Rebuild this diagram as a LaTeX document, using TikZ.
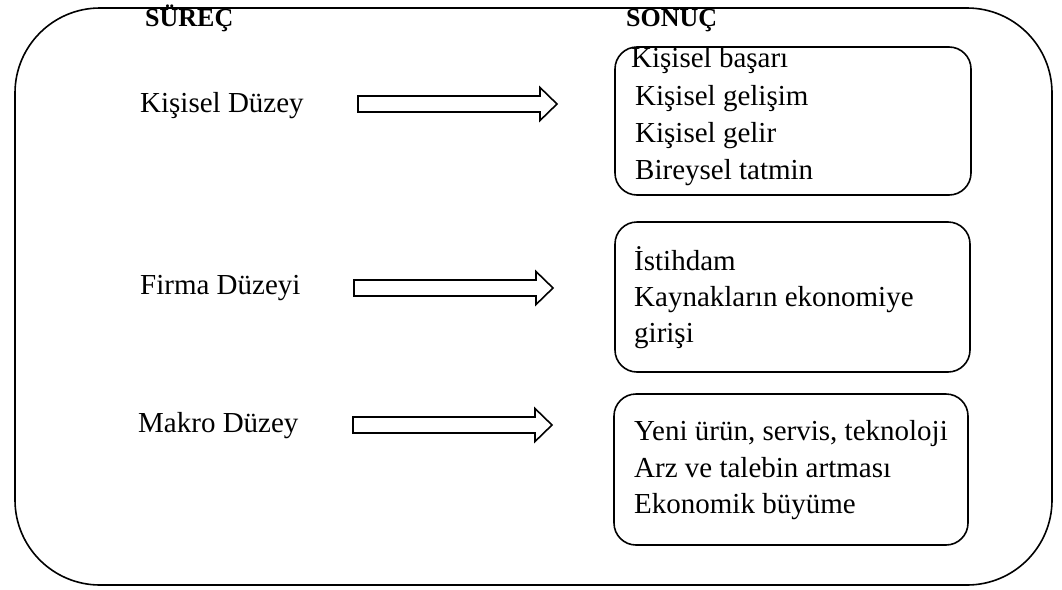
\documentclass[tikz,border=0pt]{standalone}
\usepackage{fontspec}
\setmainfont{Liberation Serif}
\usetikzlibrary{calc}
\tikzset{
  frame/.style={draw, line width=1.6pt, rounded corners=85pt},
  resbox/.style={draw, line width=1.6pt, rounded corners=22pt},
  blk/.style={draw, line width=1.6pt, line join=miter},
  head/.style={anchor=base west, inner sep=0pt, font=\fontsize{26}{30}\selectfont\bfseries},
  lbl/.style={anchor=base west, inner sep=0pt, font=\fontsize{29}{35}\selectfont},
}
\newcommand{\blockarr}[2]{%
  \draw[blk] ($(#1)+(0,-8)$) -- ($(#2)+(-17,-8)$) -- ($(#2)+(-17,-16.5)$) -- (#2)
    -- ($(#2)+(-17,16.5)$) -- ($(#2)+(-17,8)$) -- ($(#1)+(0,8)$) -- cycle;}
\begin{document}
\begin{tikzpicture}[x=1pt,y=-1pt]
\useasboundingbox (0,0) rectangle (1062,589);
% outer frame
\draw[frame] (15,8) rectangle (1052,585);
% headings
\node[head] (surec) at (145,26) {SÜREÇ};
\node[head] (sonuc) at (626,26) {SONUÇ};
% left labels
\node[lbl] (l1) at (140,112) {Kişisel Düzey};
\node[lbl] (l2) at (140,294) {Firma Düzeyi};
\node[lbl] (l3) at (138,432) {Makro Düzey};
% arrows
\coordinate (t1) at (358,104); \coordinate (h1) at (557,104);
\coordinate (t2) at (354,288); \coordinate (h2) at (553,288);
\coordinate (t3) at (353,425); \coordinate (h3) at (552,425);
\blockarr{t1}{h1}
\blockarr{t2}{h2}
\blockarr{t3}{h3}
% result boxes
\draw[resbox] (615,47) rectangle (971,195);
\draw[resbox] (615,222) rectangle (970,372);
\draw[resbox] (614,394) rectangle (968,545);
% box texts
\node[lbl] (a1) at (631,67) {Kişisel başarı};
\node[lbl] (a2) at (635,105) {Kişisel gelişim};
\node[lbl] (a3) at (635,142) {Kişisel gelir};
\node[lbl] (a4) at (635,179) {Bireysel tatmin};
\node[lbl] (b1) at (634,270) {İstihdam};
\node[lbl] (b2) at (634,306) {Kaynakların ekonomiye};
\node[lbl] (b3) at (634,342) {girişi};
\node[lbl] (c1) at (634,440) {Yeni ürün, servis, teknoloji};
\node[lbl] (c2) at (634,477) {Arz ve talebin artması};
\node[lbl] (c3) at (634,513) {Ekonomik büyüme};
\end{tikzpicture}
\end{document}
